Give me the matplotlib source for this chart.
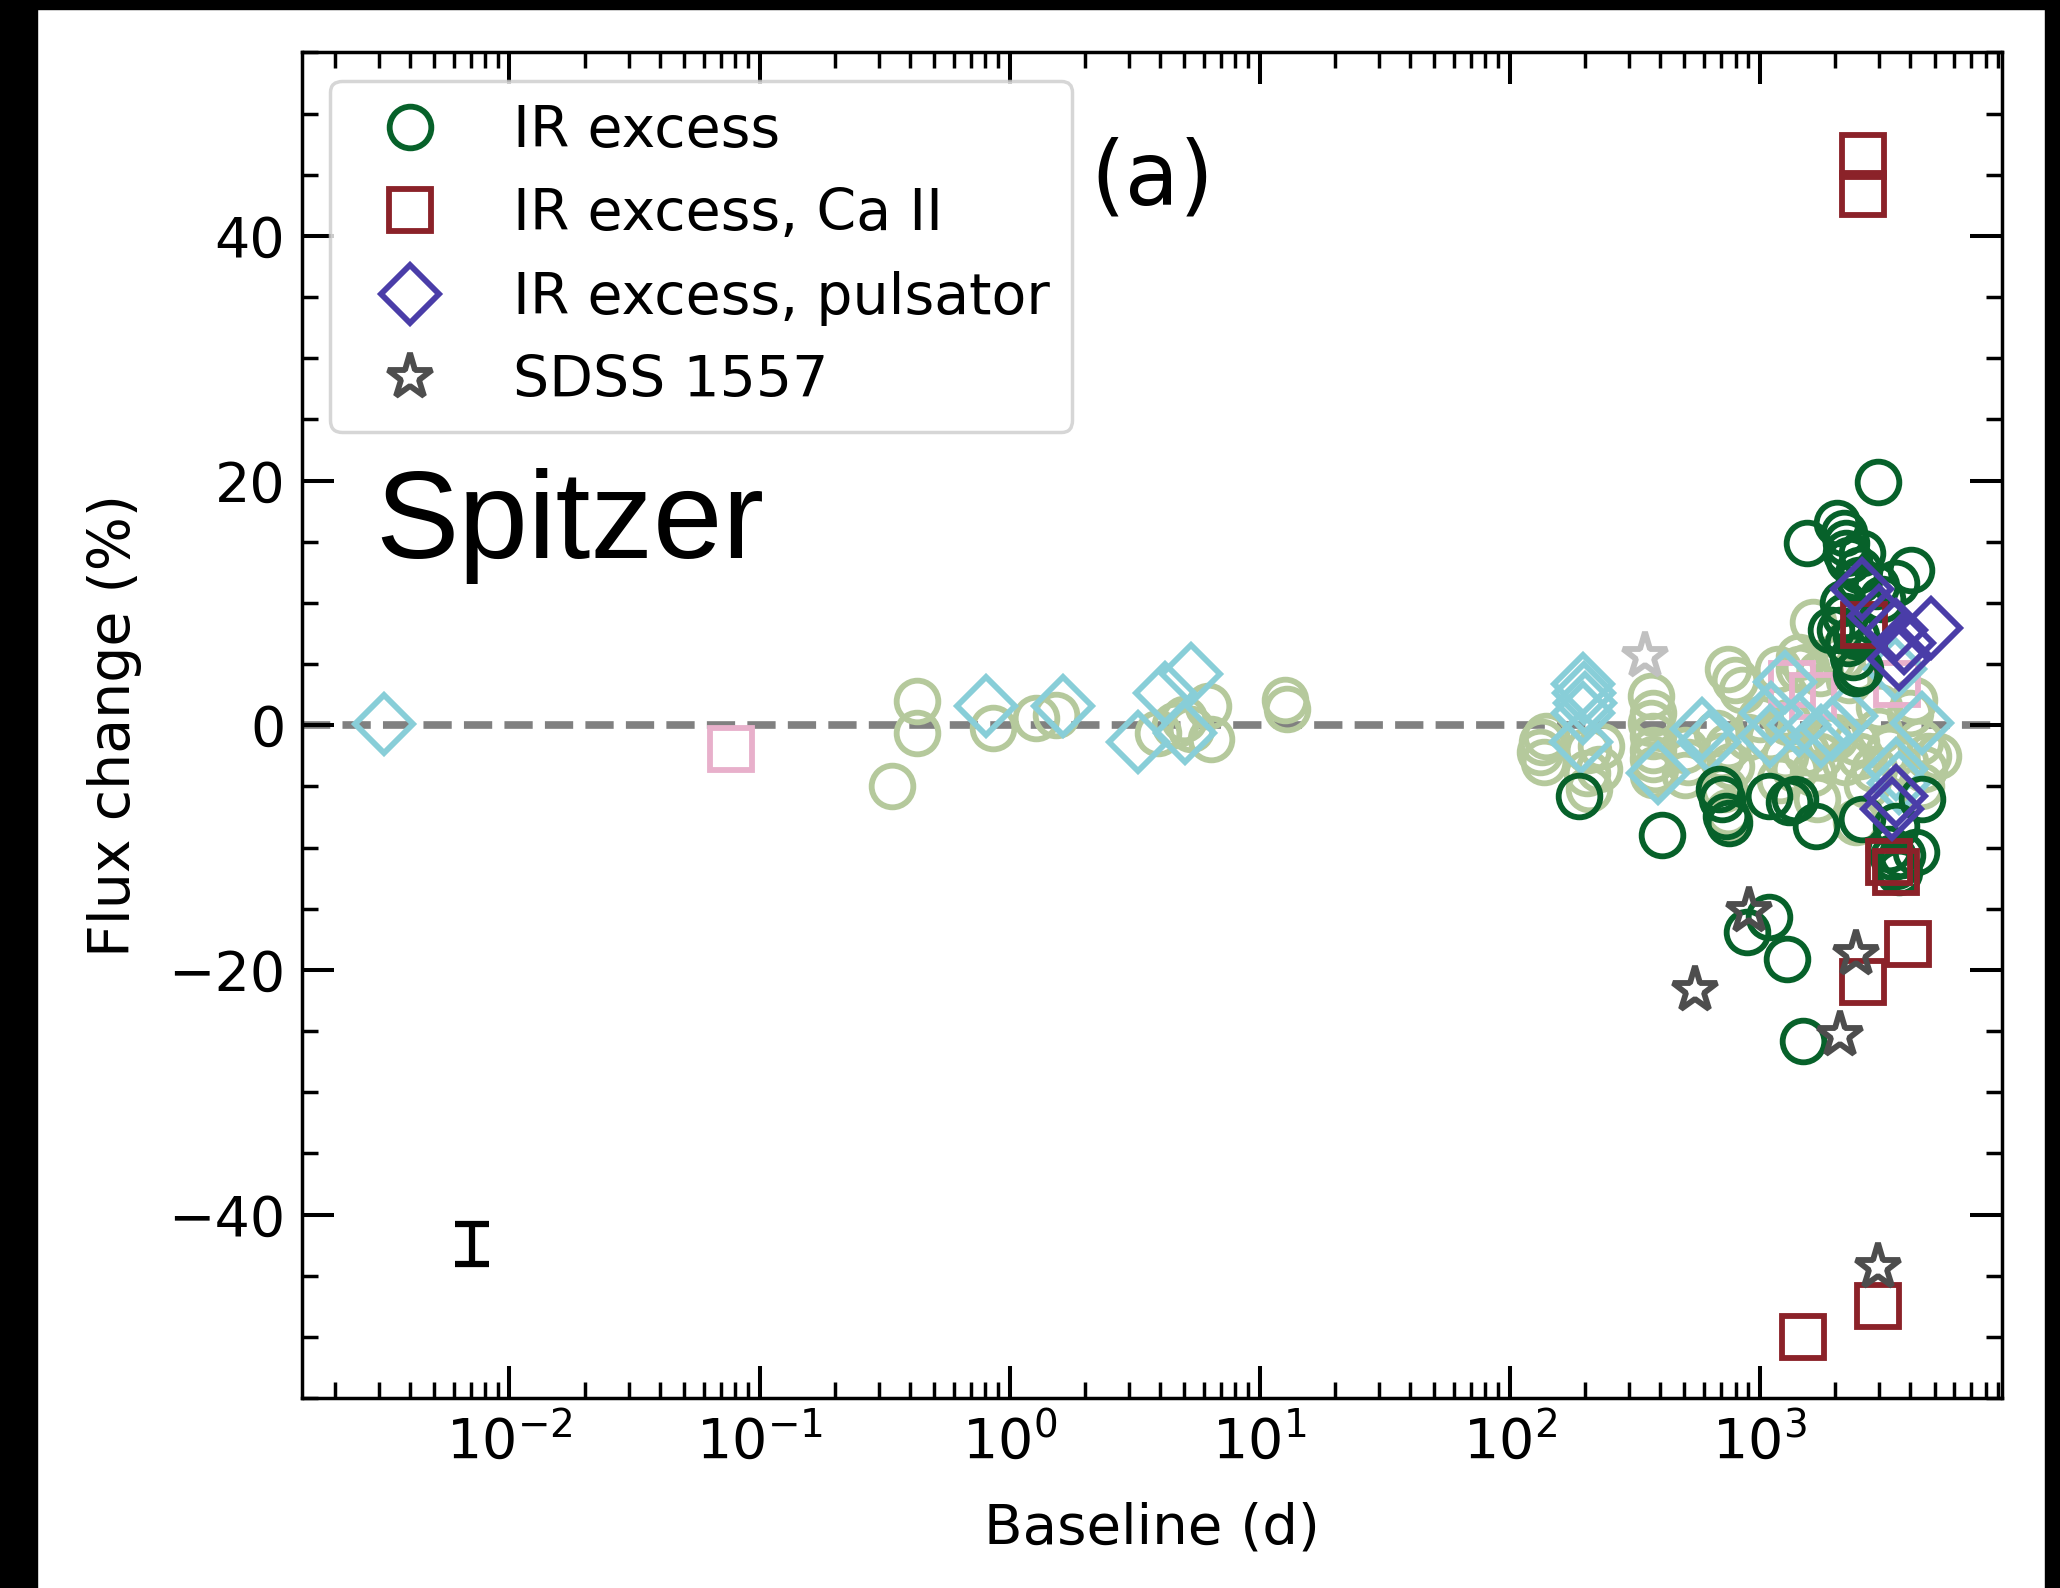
import matplotlib
matplotlib.use('Agg')
import matplotlib.pyplot as plt
from matplotlib.patches import Rectangle
from matplotlib.ticker import MultipleLocator, LogLocator, NullFormatter

plt.rcParams['font.family'] = ['DejaVu Sans']
plt.rcParams['axes.linewidth'] = 2.5

# IR excess (significant change)
ir_x = [2979, 1549, 2042, 2171, 2206, 2206, 2274, 2570, 4016, 3500, 2495, 2495, 2911, 3090,
        2150, 2200, 2100, 2250, 2350, 2420, 1928, 2427, 2512,
        190, 408, 687, 708, 731, 754, 1089, 1309, 1390, 1674, 2570, 4465, 4205, 3500, 3290,
        3500, 3600, 3400, 3700,
        1086, 891, 1280, 1484]
ir_y = [19.9, 14.9, 16.5, 15.7, 14.9, 14.1, 13.5, 14.1, 12.7, 11.6, 12.7, 11.9, 11.4, 10.3,
        10.0, 8.9, 7.8, 6.7, 5.6, 4.3, 7.8, 7.3, 4.6,
        -5.8, -9.0, -5.2, -6.0, -7.4, -8.0, -5.8, -6.3, -6.0, -8.2, -7.7, -6.0, -10.4, -8.2, -10.1,
        -11.5, -12.0, -10.8, -10.6,
        -15.7, -16.9, -19.1, -25.8]

# IR excess, Ca II
ca_x = [2595, 2595, 2612, 3290, 3500, 3915, 2595, 2978, 1484]
ca_y = [46.5, 43.4, 8.2, -11.2, -12.0, -17.9, -21.0, -47.5, -50.0]

# IR excess, pulsator
puls_x = [2570, 2998, 3500, 3776, 4824, 3600, 3390, 3500]
puls_y = [11.1, 8.9, 7.8, 6.7, 7.95, 5.4, -6.85, -5.8]

# SDSS 1557
sdss_x = [906, 553, 2094, 2428, 2978]
sdss_y = [-15.2, -21.65, -25.3, -18.7, -44.3]

# faint symbols: changes not significant
ir_faint_x = [0.338, 0.425, 0.425, 0.855, 1.27, 1.53, 3.94, 4.6, 5.0, 5.33, 6.2, 6.4, 12.6, 12.9,
              135, 132, 137, 140, 206, 232, 228, 203, 208,
              367, 373, 367, 373, 375, 375, 380, 373, 501, 517, 501,
              745, 794, 849, 675, 745, 697, 768, 718, 745, 754,
              1178, 1437, 1531, 1259, 1390, 1531, 1637, 1749, 1867,
              1637, 2133, 2275, 2427, 2512, 2864, 2681, 2427,
              4385, 4690, 4540, 4000, 4130, 5180, 1437, 1740, 1950, 2425,
              1000, 1100, 1300, 2000, 2200, 3000, 3300, 3800, 900, 1200, 1700, 4400, 3000]
ir_faint_y = [-4.95, 1.98, -0.6, -0.2, 0.6, 0.8, -0.6, 0.0, 0.5, -0.3, 1.6, -1.15, 2.1, 1.3,
              -1.4, -2.2, -3.0, -0.9, -2.0, -1.7, -3.6, -3.9, -5.2,
              2.4, 1.0, 0.2, -0.9, -2.0, -2.8, -3.6, -4.1, -4.1, -3.0, -2.0,
              4.6, 3.7, 2.9, -0.6, -1.7, -2.5, -3.3, -5.2, -7.1, -7.7,
              4.6, 5.6, 4.8, -2.5, -3.6, -2.2, -3.9, -2.5, -1.15,
              8.4, 5.6, 3.7, -1.4, -2.5, -3.6, -4.9, -7.9,
              -1.4, -2.5, -3.6, 1.0, 2.1, -2.5, 4.6, 4.3, 5.4, 4.6,
              0.5, -1.0, 0.3, -1.0, -3.0, -0.5, -2.0, -3.0, -1.0, -4.5, -6.0, -5.0, 1.5]

ca_faint_x = [0.0767, 1346, 1637, 3540]
ca_faint_y = [-1.96, 3.4, 2.4, 3.4]

puls_faint_x = [0.00316, 0.805, 1.64, 3.27, 4.18, 5.33, 5.02,
                197, 199, 201, 197, 192,
                393, 590, 627, 1107, 1259, 1104, 1437, 1950, 2207, 4466, 3485, 3500, 3605, 1750]
puls_faint_y = [0.07, 1.6, 1.6, -1.4, 2.66, 4.15, -0.6,
                3.4, 2.6, 1.8, 1.0, -1.4,
                -3.9, -0.3, -1.4, 1.0, 3.5, -0.9, 0.0, -0.3, 0.75, 0.2, 4.6, -3.6, -4.7, -0.9]

sdss_faint_x = [348]
sdss_faint_y = [5.67]

# typical uncertainty
err_x = [0.0071]
err_y = [-42.4]
err_size = [1.63]

fig = plt.figure(figsize=(20.6, 15.88), dpi=100)
ax = fig.add_axes([0.1466, 0.1196, 0.8252, 0.8474])

ms = 30
ms_star = 34
mew = 4.2

ax.axhline(0, color='#808080', ls='--', lw=5.5, zorder=1)

ax.plot(ir_faint_x, ir_faint_y, 'o', ms=ms, mfc='none', mec='#b5c99c', mew=mew, zorder=2)
ax.plot(ca_faint_x, ca_faint_y, 's', ms=ms, mfc='none', mec='#e8b0cb', mew=mew, zorder=2)
ax.plot(puls_faint_x, puls_faint_y, 'D', ms=ms, mfc='none', mec='#88ced8', mew=mew, zorder=2)
ax.plot(sdss_faint_x, sdss_faint_y, '*', ms=ms_star, mfc='none', mec='#c0c0c0', mew=mew, zorder=2)

ax.plot(ir_x, ir_y, 'o', ms=ms, mfc='none', mec='#07612a', mew=mew, zorder=3, label='IR excess')
ax.plot(ca_x, ca_y, 's', ms=ms, mfc='none', mec='#8b2229', mew=mew, zorder=3, label='IR excess, Ca II')
ax.plot(puls_x, puls_y, 'D', ms=ms, mfc='none', mec='#4a3da8', mew=mew, zorder=3,
        label='IR excess, pulsator')
ax.plot(sdss_x, sdss_y, '*', ms=ms_star, mfc='none', mec='#4d4d4d', mew=mew, zorder=3,
        label='SDSS 1557')

ax.errorbar(err_x, err_y, yerr=err_size, fmt='none', ecolor='k', elinewidth=4.5,
            capsize=12, capthick=4.5, zorder=3)

ax.set_xscale('log')
ax.set_xlim(1.48e-3, 9.3e3)
ax.set_ylim(-55, 55)
ax.yaxis.set_major_locator(MultipleLocator(20))
ax.yaxis.set_minor_locator(MultipleLocator(5))
ax.xaxis.set_major_locator(LogLocator(base=10, numticks=20))
ax.xaxis.set_minor_locator(LogLocator(base=10, subs=range(2, 10), numticks=20))
ax.xaxis.set_minor_formatter(NullFormatter())

ax.tick_params(which='both', direction='in', top=True, right=True, labelsize=40, pad=12)
ax.tick_params(which='major', length=23, width=2.9)
ax.tick_params(which='minor', length=11.5, width=2.5)

ax.set_xlabel('Baseline (d)', fontsize=40.5)
ax.set_ylabel('Flux change (%)', fontsize=41)
ax.xaxis.set_label_coords(0.5, -0.077)
ax.yaxis.set_label_coords(-0.094, 0.5)

leg = ax.legend(loc='upper left', fontsize=41, numpoints=1)
leg.get_frame().set_linewidth(2.5)

ax.text(0.5, 0.905, '(a)', transform=ax.transAxes, fontsize=64, ha='center', va='center')
ax.text(0.043, 0.624, 'Spitzer', transform=ax.transAxes, fontsize=90, ha='left',
        va='baseline', family=['Liberation Sans', 'DejaVu Sans'])

# black frame of the screenshot
fig.patches.append(Rectangle((0, 0), 37 / 2060, 1, transform=fig.transFigure, color='k', zorder=0))
fig.patches.append(Rectangle((0, 1 - 9 / 1588), 1, 9 / 1588, transform=fig.transFigure, color='k', zorder=0))
fig.patches.append(Rectangle((2045 / 2060, 0), 15 / 2060, 1, transform=fig.transFigure, color='k', zorder=0))

fig.savefig('out.png', dpi=100)
